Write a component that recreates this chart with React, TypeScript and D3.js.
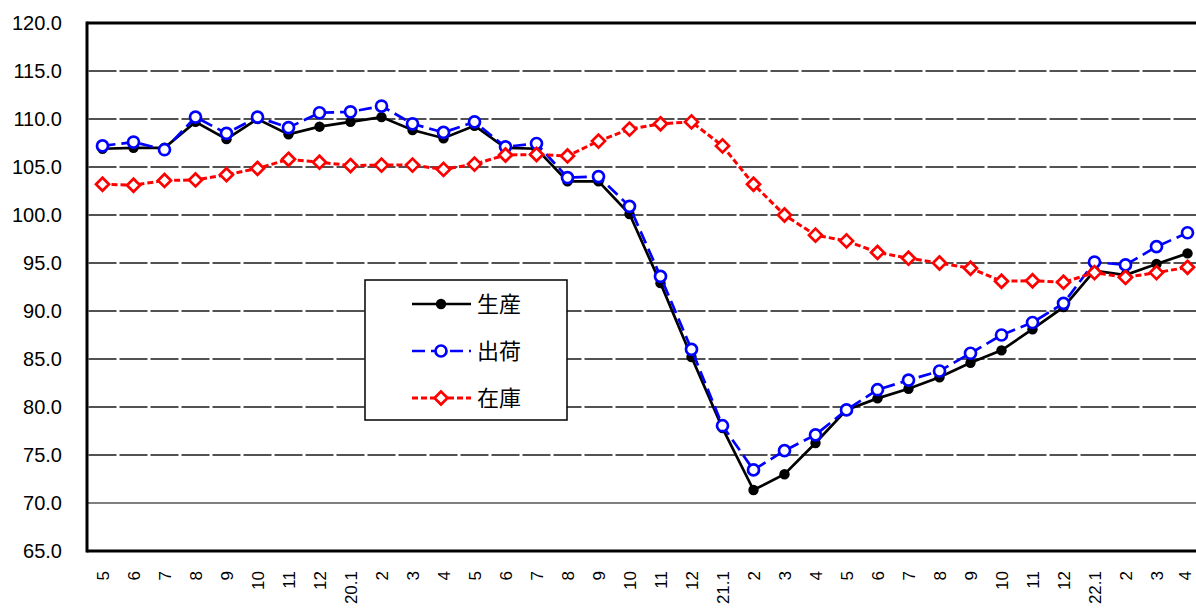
import * as d3 from 'd3';
import React, { useEffect, useRef } from 'react';

// x categories (month labels)
const categories = [
  '5', '6', '7', '8', '9', '10', '11', '12',
  '20.1', '2', '3', '4', '5', '6', '7', '8', '9', '10', '11', '12',
  '21.1', '2', '3', '4', '5', '6', '7', '8', '9', '10', '11', '12',
  '22.1', '2', '3', '4',
];

// 生産
const production = [
  106.9, 107.0, 107.0, 109.7, 107.9, 110.0, 108.4, 109.2, 109.7, 110.2, 108.85, 108.0,
  109.3, 107.0, 106.9, 103.5, 103.5, 100.1, 92.9, 85.2, 77.8, 71.35, 73.0, 76.25,
  79.7, 80.9, 81.9, 83.1, 84.6, 85.9, 88.1, 90.4, 94.2, 93.75, 94.9, 96.0,
];

// 出荷
const shipments = [
  107.2, 107.6, 106.8, 110.2, 108.5, 110.2, 109.1, 110.65, 110.75, 111.35, 109.5, 108.6,
  109.7, 107.1, 107.45, 103.9, 104.0, 100.9, 93.6, 86.0, 78.05, 73.45, 75.45, 77.1,
  79.7, 81.8, 82.8, 83.75, 85.6, 87.5, 88.8, 90.8, 95.1, 94.8, 96.7, 98.15,
];

// 在庫
const inventory = [
  103.2, 103.1, 103.6, 103.65, 104.2, 104.85, 105.8, 105.5, 105.15, 105.2, 105.2, 104.75,
  105.3, 106.25, 106.3, 106.15, 107.7, 108.95, 109.5, 109.7, 107.2, 103.2, 100.0, 97.9,
  97.3, 96.1, 95.5, 95.0, 94.45, 93.1, 93.15, 93.0, 94.0, 93.5, 94.0, 94.55,
];

const yTicks = [65, 70, 75, 80, 85, 90, 95, 100, 105, 110, 115, 120];

const seriesNames = ['生産', '出荷', '在庫'];

const W = 1196;
const H = 612;

export default function App() {
  const svgRef = useRef<SVGSVGElement>(null);

  useEffect(() => {
    if (!svgRef.current) return;
    const svg = d3.select(svgRef.current);
    svg.selectAll('*').remove();

    const x0 = 87;
    const bw = 31;
    const top = 23;
    const bottom = 551;

    const x = d3.scaleBand<number>()
      .domain(d3.range(categories.length))
      .range([x0, x0 + bw * categories.length]);
    const cx = (i: number) => (x(i) as number) + x.bandwidth() / 2;

    const y = d3.scaleLinear().domain([65, 120]).range([bottom, top]);

    const numFont = '"Liberation Sans", Arial, sans-serif';

    // grid lines
    const grid = svg.append('g');
    yTicks.filter(t => t > 65 && t < 120).forEach(t => {
      const solid = t === 70;
      grid.append('line')
        .attr('x1', x0)
        .attr('x2', W)
        .attr('y1', y(t))
        .attr('y2', y(t))
        .attr('stroke', solid ? '#000' : '#1a1a1a')
        .attr('stroke-width', solid ? 1.2 : 1.7)
        .attr('stroke-dasharray', solid ? null : `${bw - 3},3`)
        .attr('stroke-dashoffset', solid ? null : bw - 3 + 1.5);
    });

    // frame
    svg.append('line')
      .attr('x1', x0).attr('x2', W).attr('y1', top).attr('y2', top)
      .attr('stroke', '#000').attr('stroke-width', 3);
    svg.append('line')
      .attr('x1', x0).attr('x2', W).attr('y1', bottom).attr('y2', bottom)
      .attr('stroke', '#000').attr('stroke-width', 3);
    svg.append('line')
      .attr('x1', x0).attr('x2', x0).attr('y1', top - 1.5).attr('y2', bottom + 1.5)
      .attr('stroke', '#000').attr('stroke-width', 3);

    // y labels
    svg.append('g')
      .selectAll('text')
      .data(yTicks)
      .join('text')
      .attr('x', 62)
      .attr('y', d => y(d))
      .attr('dy', '0.36em')
      .attr('text-anchor', 'end')
      .attr('font-family', numFont)
      .attr('font-size', 20)
      .attr('fill', '#000')
      .text(d => d.toFixed(1));

    // x labels (last one nudged in so it stays inside the page)
    svg.append('g')
      .selectAll('text')
      .data(categories)
      .join('text')
      .attr('transform', (_, i) => `translate(${Math.min(cx(i), W - 11)},571) rotate(-90)`)
      .attr('text-anchor', 'end')
      .attr('dy', '0.36em')
      .attr('font-family', numFont)
      .attr('font-size', 17)
      .attr('fill', '#000')
      .text(d => d);

    const line = d3.line<number>()
      .x((_, i) => cx(i))
      .y(d => y(d));

    const plot = svg.append('g');

    // 生産
    plot.append('path')
      .datum(production)
      .attr('d', line)
      .attr('fill', 'none')
      .attr('stroke', '#000')
      .attr('stroke-width', 2.7);
    plot.append('g')
      .selectAll('circle')
      .data(production)
      .join('circle')
      .attr('cx', (_, i) => cx(i))
      .attr('cy', d => y(d))
      .attr('r', 5.2)
      .attr('fill', '#000');

    // 出荷
    plot.append('path')
      .datum(shipments)
      .attr('d', line)
      .attr('fill', 'none')
      .attr('stroke', '#0000FF')
      .attr('stroke-width', 2.7)
      .attr('stroke-dasharray', '13,6');
    plot.append('g')
      .selectAll('circle')
      .data(shipments)
      .join('circle')
      .attr('cx', (_, i) => cx(i))
      .attr('cy', d => y(d))
      .attr('r', 5.5)
      .attr('fill', '#fff')
      .attr('stroke', '#0000FF')
      .attr('stroke-width', 2.7);

    // 在庫
    const diamond = (px: number, py: number, r: number) =>
      `M${px},${py - r}L${px + r},${py}L${px},${py + r}L${px - r},${py}Z`;
    plot.append('path')
      .datum(inventory)
      .attr('d', line)
      .attr('fill', 'none')
      .attr('stroke', '#FF0000')
      .attr('stroke-width', 3)
      .attr('stroke-dasharray', '6,3');
    plot.append('g')
      .selectAll('path')
      .data(inventory)
      .join('path')
      .attr('d', (d, i) => diamond(cx(i), y(d), 6.5))
      .attr('fill', '#fff')
      .attr('stroke', '#FF0000')
      .attr('stroke-width', 2.7);

    // legend
    const lg = svg.append('g');
    lg.append('rect')
      .attr('x', 365)
      .attr('y', 280)
      .attr('width', 202)
      .attr('height', 140)
      .attr('fill', '#fff')
      .attr('stroke', '#000')
      .attr('stroke-width', 1.5);

    const rows = [304, 351, 398];
    const styles = [
      { stroke: '#000', dash: null as string | null, w: 2.7 },
      { stroke: '#0000FF', dash: '13,6', w: 2.7 },
      { stroke: '#FF0000', dash: '6,3', w: 3 },
    ];
    seriesNames.forEach((name, k) => {
      const ry = rows[k];
      const s = styles[k];
      lg.append('line')
        .attr('x1', 412).attr('x2', 471).attr('y1', ry).attr('y2', ry)
        .attr('stroke', s.stroke)
        .attr('stroke-width', s.w)
        .attr('stroke-dasharray', s.dash);
      if (k === 0) {
        lg.append('circle').attr('cx', 441).attr('cy', ry).attr('r', 5.2).attr('fill', '#000');
      } else if (k === 1) {
        lg.append('circle').attr('cx', 441).attr('cy', ry).attr('r', 5.5)
          .attr('fill', '#fff').attr('stroke', '#0000FF').attr('stroke-width', 2.7);
      } else {
        lg.append('path').attr('d', diamond(441, ry, 6.5))
          .attr('fill', '#fff').attr('stroke', '#FF0000').attr('stroke-width', 2.7);
      }
      lg.append('text')
        .attr('x', 477)
        .attr('y', ry)
        .attr('dy', '0.38em')
        .attr('font-family', '"Noto Sans CJK JP", sans-serif')
        .attr('font-size', 22)
        .attr('fill', '#000')
        .text(name);
    });
  }, []);

  return (
    <svg
      ref={svgRef}
      width={W}
      height={H}
      style={{ position: 'absolute', left: 0, top: 0, display: 'block', background: '#fff' }}
    />
  );
}
